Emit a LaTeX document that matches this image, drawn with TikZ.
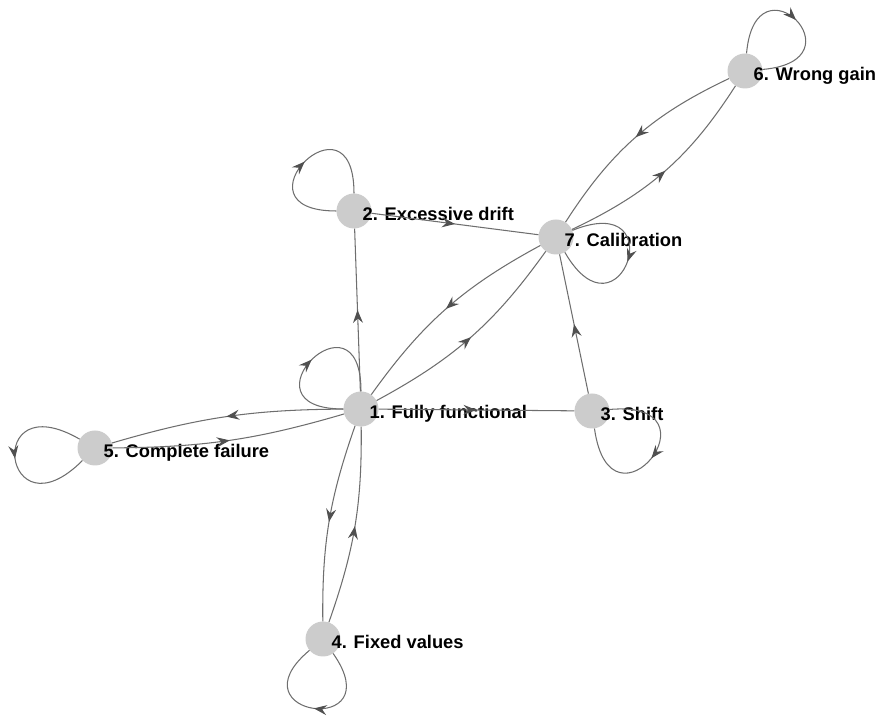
\documentclass[tikz,border=0pt]{standalone}
\usepackage{fontspec}
\setmainfont{Liberation Sans}
\usetikzlibrary{arrows.meta,decorations.markings}
\definecolor{vgray}{RGB}{204,204,204}
\definecolor{egray}{RGB}{110,110,110}
\definecolor{agray}{RGB}{80,80,80}
\begin{document}
\begin{tikzpicture}[x=1pt,y=1pt,
  vtx/.style={circle,fill=vgray,minimum size=35pt,inner sep=0pt},
  lbl/.style={anchor=base west,inner sep=0pt,font=\fontsize{18.3}{20}\selectfont\bfseries},
  edg/.style={draw=egray,line width=1.05pt,postaction={decorate},
    decoration={markings,mark=at position 0.5 with {\arrow[color=agray]{Stealth[length=13pt,width=10pt,inset=4.5pt]}}}},
  selfloop/.style={edg,distance=#1}
]
\useasboundingbox (0,0) rectangle (879,720);
% vertices
\node[vtx] (n1) at (361,311) {};
\node[vtx] (n2) at (354,509) {};
\node[vtx] (n3) at (592,309) {};
\node[vtx] (n4) at (323,81) {};
\node[vtx] (n5) at (95,272) {};
\node[vtx] (n6) at (745,649) {};
\node[vtx] (n7) at (556,483) {};
% labels
\node[lbl] (l1) at (369.5,301.5) {1. Fully functional};
\node[lbl] (l2) at (362.5,499.5) {2. Excessive drift};
\node[lbl] (l3) at (600.5,299.5) {3. Shift};
\node[lbl] (l4) at (331.5,71.5) {4. Fixed values};
\node[lbl] (l5) at (103.5,262.5) {5. Complete failure};
\node[lbl] (l6) at (753.5,639.5) {6. Wrong gain};
\node[lbl] (l7) at (564.5,473.5) {7. Calibration};
% edges
\draw[edg] (n1) -- (n2);
\draw[edg] (n2) -- (n7);
\draw[edg] (n3) -- (n7);
\draw[edg] (n1) -- (n3);
\draw[edg] (n7) to[bend right=13] (n1);
\draw[edg] (n1) to[bend right=13] (n7);
\draw[edg] (n6) to[bend right=16] (n7);
\draw[edg] (n7) to[bend right=16] (n6);
\draw[edg] (n1) to[bend right=8] (n5);
\draw[edg] (n5) to[bend right=8] (n1);
\draw[edg] (n1) to[bend right=10] (n4);
\draw[edg] (n4) to[bend right=10] (n1);
% self loops
\draw[selfloop=102pt] (n6) to[out=85,in=5] (n6);
\draw[selfloop=108pt] (n2) to[out=180,in=90] (n2);
\draw[selfloop=108pt] (n1) to[out=180,in=90] (n1);
\draw[selfloop=112pt] (n5) to[out=150,in=225] (n5);
\draw[selfloop=116pt] (n3) to[out=5,in=-82] (n3);
\draw[selfloop=110pt] (n7) to[out=22,in=-60] (n7);
\draw[selfloop=103pt] (n4) to[out=-55,in=220] (n4);
\end{tikzpicture}
\end{document}
